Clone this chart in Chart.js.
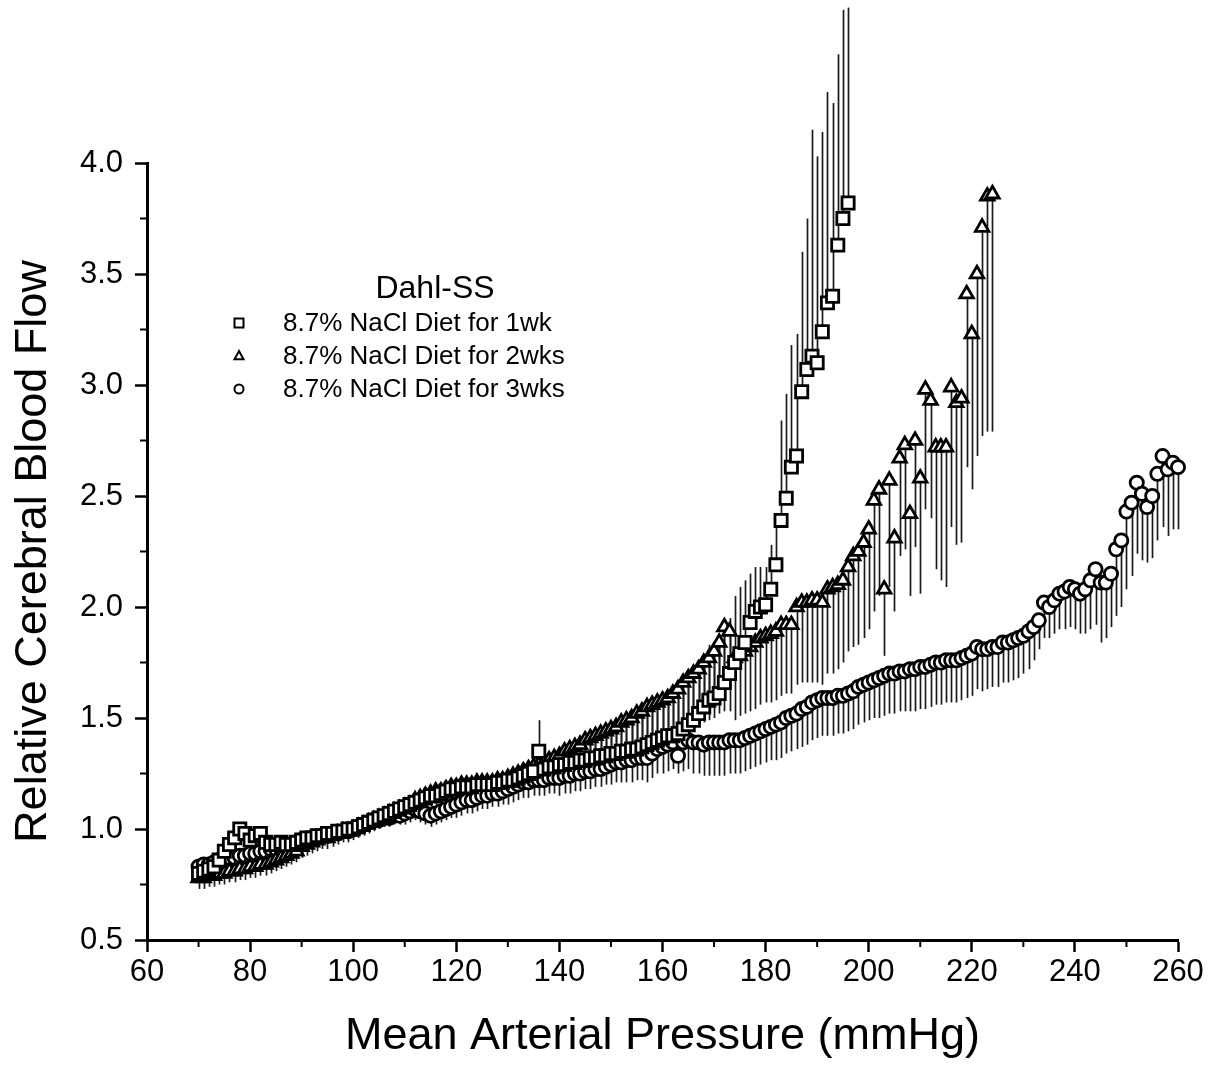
<!DOCTYPE html>
<html>
<head>
<meta charset="utf-8">
<script src="https://cdn.jsdelivr.net/npm/chart.js@4.4.1/dist/chart.umd.min.js"></script>
<style>
  html, body { margin: 0; padding: 0; background: #fff; }
  #wrap { width: 1217px; height: 1071px; position: relative; }
</style>
</head>
<body>
<div id="wrap"><canvas id="cbfChart"></canvas></div>
<script>
// Dahl-SS, 8.7% NaCl diet for 1 week (squares, error bars upward)
const mapWk1 = [
  70,71,72,73,74,75,76,77,78,79, 80,81,82,83,84,85,86,87,88,89,
  90,91,92,93,94,95,96,97,98,99, 100,101,102,103,104,105,106,107,108,109,
  110,111,112,113,114,115,116,117,118,119, 120,121,122,123,124,125,126,127,128,129,
  130,131,132,133,134,135,136,137,138,139, 140,141,142,143,144,145,146,147,148,149,
  150,151,152,153,154,155,156,157,158,159, 160,161,162,163,164,165,166,167,168,169,
  170,171,172,173,174,175,176,177,178,179, 180,181,182,183,184,185,186,187,188,189,
  190,191,192,193,194,195,196
];
const cbfWk1 = [
  0.80,0.81,0.82,0.83,0.86,0.90,0.93,0.96,1.00,0.98, 0.95,0.97,0.98,0.94,0.93,0.93,0.94,0.93,0.93,0.94,
  0.95,0.96,0.96,0.97,0.97,0.98,0.98,0.99,0.99,1.00, 1.00,1.01,1.02,1.03,1.04,1.05,1.06,1.07,1.08,1.09,
  1.10,1.11,1.12,1.13,1.14,1.15,1.15,1.16,1.17,1.18, 1.18,1.19,1.19,1.19,1.20,1.20,1.20,1.20,1.21,1.21,
  1.22,1.22,1.23,1.24,1.25,1.26,1.35,1.27,1.28,1.28, 1.29,1.29,1.30,1.30,1.31,1.31,1.32,1.32,1.33,1.33,
  1.34,1.34,1.35,1.35,1.36,1.36,1.37,1.38,1.39,1.40, 1.41,1.42,1.42,1.43,1.45,1.47,1.49,1.52,1.55,1.58,
  1.59,1.61,1.66,1.70,1.75,1.79,1.84,1.93,1.98,2.00, 2.01,2.08,2.19,2.39,2.49,2.63,2.68,2.97,3.07,3.13,
  3.10,3.24,3.37,3.40,3.63,3.75,3.82
];
const errWk1 = [
  0.04,0.04,0.04,0.04,0.04,0.04,0.03,0.03,0.03,0.03, 0.03,0.03,0.03,0.03,0.03,0.03,0.03,0.03,0.03,0.03,
  0.03,0.03,0.03,0.03,0.03,0.03,0.03,0.03,0.03,0.03, 0.04,0.04,0.04,0.04,0.04,0.04,0.04,0.04,0.04,0.04,
  0.04,0.04,0.04,0.04,0.04,0.04,0.04,0.04,0.04,0.04, 0.04,0.04,0.04,0.04,0.04,0.04,0.04,0.04,0.04,0.04,
  0.05,0.05,0.05,0.06,0.06,0.06,0.14,0.07,0.07,0.07, 0.08,0.08,0.08,0.09,0.09,0.09,0.10,0.10,0.10,0.11,
  0.11,0.11,0.12,0.12,0.12,0.13,0.13,0.13,0.14,0.14, 0.14,0.15,0.15,0.16,0.16,0.17,0.18,0.20,0.22,0.25,
  0.25,0.24,0.22,0.25,0.30,0.30,0.28,0.22,0.20,0.18, 0.17,0.20,0.20,0.45,0.47,0.55,0.55,0.63,0.68,1.02,
  0.93,0.90,0.95,0.87,0.86,0.94,0.88
];

// 2 weeks (triangles, error bars downward)
const mapWk2 = [
  70,71,72,73,74,75,76,77,78,79, 80,81,82,83,84,85,86,87,88,89,
  90,91,92,93,94,95,96,97,98,99, 100,101,102,103,104,105,106,107,108,109,
  110,111,112,113,114,115,116,117,118,119, 120,121,122,123,124,125,126,127,128,129,
  130,131,132,133,134,135,136,137,138,139, 140,141,142,143,144,145,146,147,148,149,
  150,151,152,153,154,155,156,157,158,159, 160,161,162,163,164,165,166,167,168,169,
  170,171,172,173,174,175,176,177,178,179, 180,181,182,183,184,185,186,187,188,189,
  190,191,192,193,194,195,196,197,198,199, 200,201,202,203,204,205,206,207,208,209,
  210,211,212,213,214,215,216,217,218,219, 220,221,222,223,224
];
const cbfWk2 = [
  0.78,0.78,0.79,0.79,0.80,0.80,0.81,0.81,0.82,0.82, 0.83,0.83,0.84,0.84,0.85,0.86,0.87,0.88,0.89,0.90,
  0.92,0.93,0.94,0.95,0.96,0.96,0.97,0.98,0.99,0.99, 1.00,1.01,1.02,1.03,1.04,1.05,1.06,1.07,1.08,1.09,
  1.10,1.11,1.13,1.14,1.15,1.16,1.17,1.17,1.18,1.19, 1.19,1.20,1.20,1.20,1.21,1.21,1.21,1.21,1.22,1.22,
  1.23,1.24,1.25,1.26,1.27,1.28,1.29,1.30,1.31,1.32, 1.33,1.35,1.36,1.37,1.38,1.40,1.41,1.42,1.43,1.44,
  1.45,1.46,1.48,1.49,1.50,1.52,1.53,1.55,1.56,1.57, 1.58,1.59,1.61,1.63,1.66,1.68,1.70,1.72,1.75,1.77,
  1.80,1.84,1.91,1.89,1.77,1.78,1.80,1.82,1.84,1.86, 1.87,1.88,1.89,1.92,1.92,1.92,2.00,2.02,2.02,2.03,
  2.03,2.02,2.08,2.09,2.10,2.12,2.18,2.23,2.25,2.29, 2.35,2.48,2.53,2.08,2.57,2.31,2.67,2.73,2.42,2.75,
  2.58,2.98,2.93,2.72,2.72,2.72,2.99,2.92,2.94,3.41, 3.23,3.50,3.71,3.85,3.86
];
const errWk2 = [
  0.05,0.05,0.05,0.05,0.05,0.05,0.05,0.05,0.05,0.05, 0.05,0.05,0.05,0.05,0.05,0.05,0.05,0.05,0.05,0.05,
  0.05,0.05,0.05,0.05,0.05,0.05,0.05,0.05,0.05,0.05, 0.05,0.05,0.05,0.05,0.05,0.05,0.05,0.05,0.05,0.05,
  0.06,0.06,0.06,0.06,0.06,0.06,0.06,0.06,0.06,0.06, 0.06,0.06,0.06,0.06,0.06,0.06,0.06,0.06,0.06,0.06,
  0.07,0.07,0.08,0.08,0.09,0.09,0.10,0.10,0.11,0.11, 0.12,0.12,0.13,0.13,0.14,0.14,0.15,0.15,0.16,0.16,
  0.17,0.17,0.18,0.18,0.19,0.19,0.20,0.20,0.21,0.21, 0.22,0.22,0.23,0.23,0.24,0.25,0.25,0.26,0.27,0.28,
  0.30,0.32,0.38,0.36,0.28,0.27,0.28,0.29,0.30,0.30, 0.30,0.31,0.31,0.32,0.31,0.31,0.35,0.36,0.36,0.37,
  0.37,0.37,0.38,0.39,0.38,0.37,0.38,0.41,0.42,0.43, 0.45,0.50,0.48,0.30,0.48,0.33,0.44,0.47,0.37,0.48,
  0.52,0.54,0.53,0.55,0.60,0.63,0.63,0.64,0.65,0.78, 0.70,0.82,0.94,1.06,1.07
];

// 3 weeks (circles, error bars downward)
const mapWk3 = [
  70,71,72,73,74,75,76,77,78,79, 80,81,82,83,84,85,86,87,88,89,
  90,91,92,93,94,95,96,97,98,99, 100,101,102,103,104,105,106,107,108,109,
  110,111,112,113,114,115,116,117,118,119, 120,121,122,123,124,125,126,127,128,129,
  130,131,132,133,134,135,136,137,138,139, 140,141,142,143,144,145,146,147,148,149,
  150,151,152,153,154,155,156,157,158,159, 160,161,162,163,164,165,166,167,168,169,
  170,171,172,173,174,175,176,177,178,179, 180,181,182,183,184,185,186,187,188,189,
  190,191,192,193,194,195,196,197,198,199, 200,201,202,203,204,205,206,207,208,209,
  210,211,212,213,214,215,216,217,218,219, 220,221,222,223,224,225,226,227,228,229,
  230,231,232,233,234,235,236,237,238,239, 240,241,242,243,244,245,246,247,248,249,
  250,251,252,253,254,255,256,257,258,259, 260
];
const cbfWk3 = [
  0.83,0.84,0.84,0.85,0.86,0.86,0.87,0.87,0.88,0.88, 0.89,0.89,0.90,0.90,0.91,0.91,0.92,0.92,0.93,0.94,
  0.95,0.95,0.96,0.96,0.97,0.97,0.98,0.98,0.99,0.99, 1.00,1.01,1.02,1.03,1.04,1.04,1.05,1.05,1.06,1.06,
  1.07,1.08,1.09,1.08,1.07,1.06,1.07,1.08,1.09,1.10, 1.11,1.12,1.13,1.13,1.14,1.15,1.15,1.16,1.16,1.17,
  1.18,1.19,1.20,1.21,1.21,1.22,1.22,1.22,1.23,1.23, 1.23,1.24,1.24,1.25,1.25,1.26,1.26,1.27,1.27,1.28,
  1.29,1.30,1.30,1.31,1.31,1.32,1.32,1.32,1.34,1.36, 1.37,1.38,1.39,1.33,1.39,1.40,1.39,1.39,1.38,1.39,
  1.39,1.39,1.39,1.40,1.40,1.40,1.41,1.42,1.43,1.44, 1.45,1.46,1.47,1.48,1.50,1.51,1.52,1.54,1.55,1.57,
  1.58,1.59,1.59,1.59,1.60,1.60,1.61,1.62,1.64,1.65, 1.66,1.67,1.68,1.69,1.70,1.70,1.71,1.71,1.72,1.72,
  1.73,1.73,1.74,1.75,1.75,1.76,1.76,1.76,1.77,1.78, 1.79,1.82,1.81,1.81,1.82,1.82,1.84,1.84,1.85,1.86,
  1.87,1.89,1.91,1.94,2.02,2.00,2.03,2.06,2.07,2.09, 2.08,2.06,2.08,2.12,2.17,2.11,2.11,2.15,2.26,2.30,
  2.43,2.47,2.56,2.51,2.45,2.50,2.60,2.68,2.62,2.65, 2.63
];
const errWk3 = [
  0.03,0.03,0.03,0.03,0.03,0.03,0.03,0.03,0.03,0.03, 0.03,0.03,0.03,0.03,0.03,0.03,0.03,0.03,0.03,0.03,
  0.03,0.03,0.03,0.03,0.03,0.03,0.03,0.03,0.03,0.03, 0.04,0.04,0.04,0.04,0.04,0.04,0.04,0.04,0.04,0.04,
  0.05,0.05,0.05,0.05,0.05,0.05,0.05,0.05,0.05,0.05, 0.06,0.06,0.06,0.06,0.06,0.06,0.06,0.06,0.06,0.06,
  0.07,0.07,0.07,0.07,0.07,0.07,0.07,0.07,0.07,0.07, 0.08,0.08,0.08,0.08,0.08,0.08,0.08,0.08,0.08,0.08,
  0.09,0.09,0.09,0.10,0.10,0.10,0.10,0.11,0.11,0.11, 0.12,0.12,0.12,0.08,0.13,0.13,0.14,0.14,0.14,0.15,
  0.15,0.15,0.15,0.15,0.15,0.15,0.15,0.15,0.15,0.15, 0.15,0.15,0.16,0.16,0.16,0.16,0.16,0.17,0.17,0.17,
  0.17,0.17,0.17,0.17,0.17,0.17,0.17,0.17,0.17,0.17, 0.17,0.17,0.18,0.18,0.18,0.18,0.18,0.18,0.19,0.19,
  0.19,0.19,0.19,0.19,0.19,0.19,0.19,0.19,0.19,0.19, 0.19,0.19,0.19,0.18,0.18,0.18,0.18,0.18,0.18,0.18,
  0.17,0.17,0.15,0.13,0.16,0.14,0.15,0.16,0.17,0.18, 0.18,0.18,0.20,0.22,0.25,0.27,0.25,0.24,0.30,0.30,
  0.35,0.33,0.32,0.30,0.25,0.28,0.30,0.32,0.30,0.30, 0.28
];

const seriesLabels = ['8.7% NaCl Diet for 1wk', '8.7% NaCl Diet for 2wks', '8.7% NaCl Diet for 3wks'];
const xMinorTicks = [70, 90, 110, 130, 150, 170, 190, 210, 230, 250];
const yMinorTicks = [0.75, 1.25, 1.75, 2.25, 2.75, 3.25, 3.75];

function toPoints(xs, ys, errs) {
  return xs.map((v, i) => ({ x: v, y: ys[i], err: errs[i] }));
}

// vertical one-sided error bars, drawn under the markers
const errorBars = {
  id: 'errorBars',
  beforeDatasetsDraw(chart) {
    const { ctx, scales: { x, y } } = chart;
    ctx.save();
    ctx.strokeStyle = '#1a1a1a';
    ctx.lineWidth = 1.7;
    chart.data.datasets.forEach((ds) => {
      ds.data.forEach((p) => {
        const px = Math.round(x.getPixelForValue(p.x)) + 0.5;
        ctx.beginPath();
        ctx.moveTo(px, y.getPixelForValue(p.y));
        ctx.lineTo(px, y.getPixelForValue(p.y + ds.errDir * p.err));
        ctx.stroke();
      });
    });
    ctx.restore();
  }
};

const minorTicks = {
  id: 'minorTicks',
  afterDraw(chart) {
    const { ctx, scales: { x, y } } = chart;
    ctx.save();
    ctx.strokeStyle = '#000';
    ctx.lineWidth = 2;
    xMinorTicks.forEach((v) => {
      const px = x.getPixelForValue(v);
      ctx.beginPath();
      ctx.moveTo(px, y.bottom);
      ctx.lineTo(px, y.bottom + 7);
      ctx.stroke();
    });
    yMinorTicks.forEach((v) => {
      const py = y.getPixelForValue(v);
      ctx.beginPath();
      ctx.moveTo(x.left, py);
      ctx.lineTo(x.left - 7, py);
      ctx.stroke();
    });
    ctx.restore();
  }
};

function drawMarker(ctx, style, cx, cy, r) {
  ctx.beginPath();
  if (style === 'rect') {
    ctx.rect(cx - r, cy - r, 2 * r, 2 * r);
  } else if (style === 'triangle') {
    ctx.moveTo(cx, cy - r * 1.1);
    ctx.lineTo(cx + r, cy + r * 0.7);
    ctx.lineTo(cx - r, cy + r * 0.7);
    ctx.closePath();
  } else {
    ctx.arc(cx, cy, r, 0, Math.PI * 2);
  }
  ctx.fill();
  ctx.stroke();
}

// legend box inside the plot
const insideLegend = {
  id: 'insideLegend',
  afterDraw(chart) {
    const { ctx } = chart;
    ctx.save();
    ctx.fillStyle = '#000';
    ctx.font = '32px "Liberation Sans", Arial, sans-serif';
    ctx.textAlign = 'center';
    ctx.textBaseline = 'middle';
    ctx.fillText('Dahl-SS', 435, 289);
    ctx.font = '26px "Liberation Sans", Arial, sans-serif';
    ctx.textAlign = 'left';
    chart.data.datasets.forEach((ds, i) => {
      const cy = 323 + i * 33;
      ctx.fillStyle = '#fff';
      ctx.strokeStyle = '#000';
      ctx.lineWidth = 2;
      drawMarker(ctx, ds.pointStyle, 239, cy, 4.5);
      ctx.fillStyle = '#000';
      ctx.fillText(ds.label, 283, cy + 1);
    });
    ctx.restore();
  }
};

const markerCommon = {
  showLine: false,
  borderColor: '#000',
  backgroundColor: '#fff',
  pointBorderColor: '#000',
  pointBackgroundColor: '#fff',
  pointBorderWidth: 2.8,
  clip: false
};

const cbfCtx = document.getElementById('cbfChart').getContext('2d');
const cbfChart = new Chart(cbfCtx, {
  type: 'scatter',
  data: {
    datasets: [
      Object.assign({}, markerCommon, {
        label: seriesLabels[0],
        data: toPoints(mapWk1, cbfWk1, errWk1),
        pointStyle: 'rect',
        pointRadius: 8.6,
        errDir: 1
      }),
      Object.assign({}, markerCommon, {
        label: seriesLabels[1],
        data: toPoints(mapWk2, cbfWk2, errWk2),
        pointStyle: 'triangle',
        pointRadius: 7.8,
        errDir: -1
      }),
      Object.assign({}, markerCommon, {
        label: seriesLabels[2],
        data: toPoints(mapWk3, cbfWk3, errWk3),
        pointStyle: 'circle',
        pointRadius: 6.6,
        errDir: -1
      })
    ]
  },
  options: {
    responsive: true,
    maintainAspectRatio: false,
    animation: false,
    events: [],
    layout: { padding: { top: 163, right: 39, left: 0, bottom: 0 } },
    plugins: {
      legend: { display: false },
      tooltip: { enabled: false }
    },
    scales: {
      x: {
        type: 'linear',
        min: 60,
        max: 260,
        afterFit(scale) { scale.height = 131; },
        ticks: {
          stepSize: 20,
          color: '#000',
          padding: 2,
          font: { family: '"Liberation Sans", Arial, sans-serif', size: 31 }
        },
        grid: { drawOnChartArea: false, drawTicks: true, tickLength: 12, tickWidth: 2.5, tickColor: '#000' },
        border: { display: true, color: '#000', width: 3 },
        title: {
          display: true,
          text: 'Mean Arterial Pressure (mmHg)',
          color: '#000',
          padding: { top: 0, bottom: 7 },
          font: { family: '"Liberation Sans", Arial, sans-serif', size: 45 }
        }
      },
      y: {
        type: 'linear',
        min: 0.5,
        max: 4.0,
        afterFit(scale) { scale.width = 147; },
        ticks: {
          stepSize: 0.5,
          color: '#000',
          padding: 12,
          callback: (v) => v.toFixed(1),
          font: { family: '"Liberation Sans", Arial, sans-serif', size: 31 }
        },
        grid: { drawOnChartArea: false, drawTicks: true, tickLength: 12, tickWidth: 2.5, tickColor: '#000' },
        border: { display: true, color: '#000', width: 3 },
        title: {
          display: true,
          text: 'Relative Cerebral Blood Flow',
          color: '#000',
          padding: { top: 7, bottom: 0 },
          font: { family: '"Liberation Sans", Arial, sans-serif', size: 45 }
        }
      }
    }
  },
  plugins: [errorBars, minorTicks, insideLegend]
});
</script>
</body>
</html>
